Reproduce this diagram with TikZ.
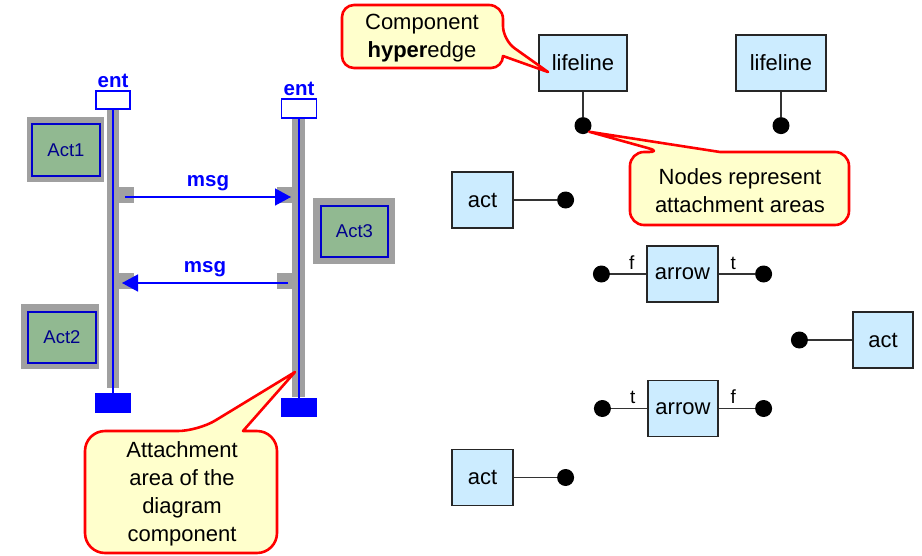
\documentclass[tikz,border=0pt]{standalone}
\usepackage{fontspec}
\setmainfont{Liberation Sans}
\usepackage{tikz}
\usetikzlibrary{positioning,arrows.meta}

\definecolor{boxblue}{RGB}{204,236,255}
\definecolor{callyellow}{RGB}{255,255,204}
\definecolor{actgreen}{RGB}{145,185,145}
\definecolor{lineblue}{RGB}{0,0,255}
\definecolor{bandgray}{RGB}{160,160,160}

\tikzset{
    compbox/.style={draw=black!85, line width=1.8pt, fill=boxblue, minimum height=56pt, inner sep=0pt, font=\fontsize{22}{26}\selectfont},
    port/.style={circle, fill=black, minimum size=17pt, inner sep=0pt},
    conn/.style={draw=black!80, line width=1.1pt},
    lbl/.style={above=3pt, inner sep=1pt, font=\fontsize{19}{20}\selectfont},
    bubble/.style={draw=red, line width=2.6pt, fill=callyellow, line join=round},
    calltext/.style={align=center, font=\fontsize{22}{28}\selectfont},
    entbox/.style={draw=lineblue, line width=1.6pt, fill=white, minimum width=34pt, minimum height=18pt, inner sep=0pt},
    endbox/.style={fill=lineblue, minimum width=36pt, minimum height=20pt, inner sep=0pt},
    band/.style={fill=bandgray},
    actbox/.style={draw=lineblue!80!black, line width=1.2pt, fill=actgreen, inner sep=0pt, text=blue!55!black, font=\fontsize{18.5}{20}\selectfont},
    bluetext/.style={text=lineblue, font=\fontsize{20.5}{22}\selectfont\bfseries},
    msgarrow/.style={draw=lineblue, line width=1.4pt, -{Triangle[length=16pt,width=17pt]}},
    node distance=36pt
}

\begin{document}
\begin{tikzpicture}[x=1pt,y=-1pt]
\useasboundingbox (0,0) rectangle (922,555);

% sequence diagram
\fill[band] (27,117) rectangle (104,182);
\fill[band] (313,198) rectangle (395,264);
\fill[band] (21,304) rectangle (99,369);
\node[actbox, minimum width=68pt, minimum height=52pt] (act1) at (66,150) {Act1};
\node[actbox, minimum width=67pt, minimum height=51pt] (act3) at (354.5,231.5) {Act3};
\node[actbox, minimum width=68pt, minimum height=51pt] (act2) at (62,337.5) {Act2};

\fill[band] (107,109) rectangle (119,388);
\fill[band] (292,118) rectangle (305,397);
\fill[band] (117,187) rectangle (134,203);
\fill[band] (277,187) rectangle (294,203);
\fill[band] (117,273) rectangle (134,289);
\fill[band] (277,273) rectangle (294,289);

\node[entbox, label={[bluetext, inner sep=2pt]above:ent}] (entA) at (113,100) {};
\node[entbox, minimum width=35pt, minimum height=19pt, label={[bluetext, inner sep=2pt]above:ent}] (entB) at (299,108.5) {};
\node[endbox] (endA) at (113,403) {};
\node[endbox, minimum height=19pt] (endB) at (299,407.5) {};
\draw[lineblue, line width=1.4pt] (entA) -- (endA);
\draw[lineblue, line width=1.4pt] (entB) -- (endB);

\coordinate (m1s) at (125,197);
\coordinate (m1e) at (291,197);
\coordinate (m2s) at (288,283);
\coordinate (m2e) at (122,283);
\draw[msgarrow] (m1s) -- node[bluetext, above=2pt] {msg} (m1e);
\draw[msgarrow] (m2s) -- node[bluetext, above=2pt] {msg} (m2e);

% hypergraph
\node[compbox, minimum width=88pt] (l1) at (583,63) {lifeline};
\node[compbox, minimum width=90pt] (l2) at (781,63) {lifeline};
\node[port, below=25pt of l1] (n1) {};
\node[port, below=25pt of l2] (n2) {};
\node[compbox, minimum width=61pt] (a1) at (482.5,200) {act};
\node[port, right=43pt of a1] (n3) {};
\node[compbox, minimum width=71pt] (r1) at (682.5,274) {arrow};
\node[port, left=of r1] (n4) {};
\node[port, right=of r1] (n5) {};
\node[compbox, minimum width=60pt] (a2) at (883,340) {act};
\node[port, left=44pt of a2] (n6) {};
\node[compbox, minimum width=70pt] (r2) at (683,408.5) {arrow};
\node[port, left=of r2] (n7) {};
\node[port, right=of r2] (n8) {};
\node[compbox, minimum width=61pt] (a3) at (482.5,477.5) {act};
\node[port, right=43pt of a3] (n9) {};

\draw[conn]
  (l1) edge (n1)
  (l2) edge (n2)
  (a1) edge (n3)
  (n4) edge node[lbl, pos=0.6] {f} (r1)
  (r1) edge node[lbl, pos=0.4] {t} (n5)
  (n6) edge (a2)
  (n7) edge node[lbl, pos=0.6] {t} (r2)
  (r2) edge node[lbl, pos=0.4] {f} (n8)
  (a3) edge (n9);

% callouts
\draw[bubble, rounded corners=14pt] (420,5) -- (503,5) -- (503,40) [sharp corners] -- (548,72) -- (503,56) [rounded corners=12pt] -- (503,68) -- (342,68) -- (342,5) -- cycle;
\node[calltext] (c1) at (422,38) {Component\\\textbf{hyper}edge};

\draw[bubble, rounded corners=14pt] (790,152) -- (849,152) -- (849,225) -- (630,225) -- (630,152) -- (662,152) [sharp corners] -- (n1.south east) -- (720,152) [rounded corners=14pt] -- cycle;
\node[calltext] (c2) at (740,191) {Nodes represent\\attachment areas};

\draw[bubble, rounded corners=20pt] (140,431) -- (198,431) [sharp corners] -- (295,372) -- (243,431) [rounded corners=20pt] -- (277,431) -- (277,553) -- (85,553) -- (85,431) -- cycle;
\node[calltext] (c3) at (182,494) {Attachment\\area of the\\diagram\\component};
\end{tikzpicture}
\end{document}
